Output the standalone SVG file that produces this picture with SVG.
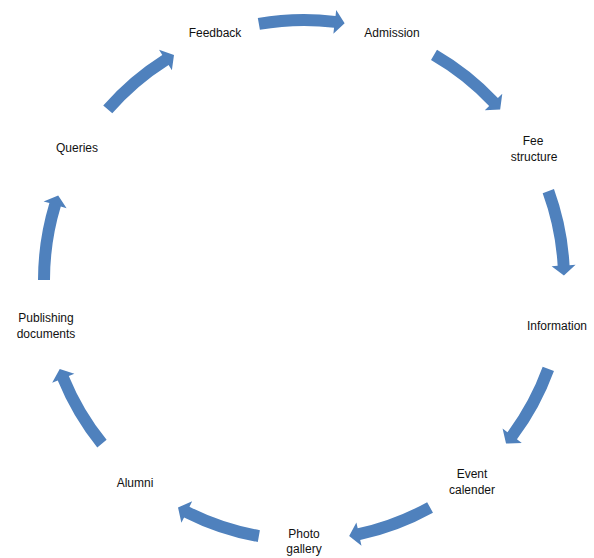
<svg xmlns="http://www.w3.org/2000/svg" width="594" height="558" viewBox="0 0 594 558">
<style>
.lbl{font-family:"Liberation Sans",Arial,sans-serif;font-size:12px;fill:#111;text-anchor:middle}
.arr{fill:#4F81BD}
</style>
<defs>
<path id="carrow" d="M266,0 A266,266 0 0 1 254.6,76.9 L260.4,78.6 L245.8,84.6 L237.4,71.7 L243.2,73.4 A254,254 0 0 0 254,0 Z"/>
</defs>
<rect width="594" height="558" fill="#fff"/>
<g id="connectors" class="arr">
<use href="#carrow" transform="translate(304,280) rotate(-100)"/>
<use href="#carrow" transform="translate(304,280) rotate(-60)"/>
<use href="#carrow" transform="translate(304,280) rotate(-20)"/>
<use href="#carrow" transform="translate(304,280) rotate(20)"/>
<use href="#carrow" transform="translate(304,280) rotate(61)"/>
<use href="#carrow" transform="translate(304,280) rotate(100)"/>
<use href="#carrow" transform="translate(304,280) rotate(141)"/>
<use href="#carrow" transform="translate(304,280) rotate(180)"/>
<use href="#carrow" transform="translate(304,280) rotate(221)"/>
</g>
<g id="feedback"><text class="lbl" x="215" y="37">Feedback</text></g>
<g id="admission"><text class="lbl" x="392" y="37">Admission</text></g>
<g id="fee"><text class="lbl" x="533" y="145">Fee</text><text class="lbl" x="534" y="161">structure</text></g>
<g id="information"><text class="lbl" x="527" y="330" style="text-anchor:start">Information</text></g>
<g id="event"><text class="lbl" x="472" y="478">Event</text><text class="lbl" x="472" y="494">calender</text></g>
<g id="photo"><text class="lbl" x="304" y="538">Photo</text><text class="lbl" x="304" y="553">gallery</text></g>
<g id="alumni"><text class="lbl" x="135" y="487">Alumni</text></g>
<g id="publishing"><text class="lbl" x="46" y="322">Publishing</text><text class="lbl" x="46" y="338">documents</text></g>
<g id="queries"><text class="lbl" x="77" y="152">Queries</text></g>
</svg>
